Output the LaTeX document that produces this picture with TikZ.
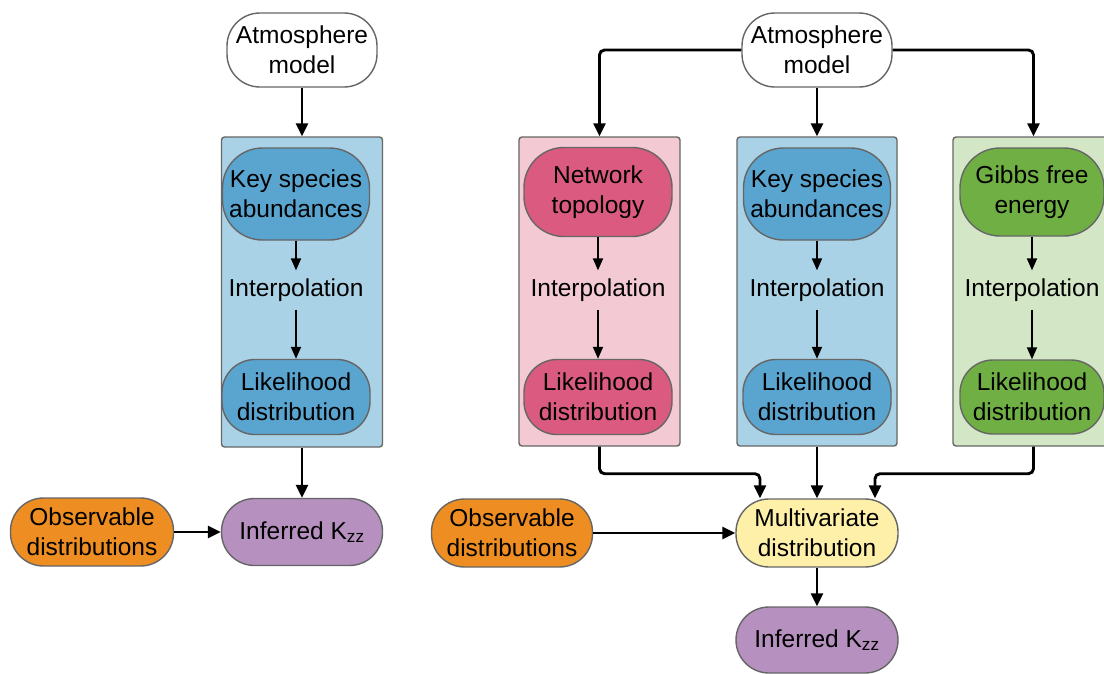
\documentclass[tikz,border=0pt]{standalone}
\usepackage{fontspec}
\setmainfont{Liberation Sans}
\usetikzlibrary{arrows.meta,calc}
\definecolor{bluebox}{HTML}{AAD2E6}
\definecolor{bluenode}{HTML}{5AA5D0}
\definecolor{pinkbox}{HTML}{F3C9D4}
\definecolor{pinknode}{HTML}{DB5B80}
\definecolor{greenbox}{HTML}{D3E7C6}
\definecolor{greennode}{HTML}{70AF43}
\definecolor{orangenode}{HTML}{EE8E22}
\definecolor{purplenode}{HTML}{B690BE}
\definecolor{yellownode}{HTML}{FEF0A8}
\definecolor{edgegray}{HTML}{666666}
\tikzset{
  pill/.style={draw=edgegray, line width=1.4pt, rounded corners=33pt, align=center, inner sep=0pt,
    font=\fontsize{24.5}{30}\selectfont},
  tallpill/.style={pill, rounded corners=40pt},
  panel/.style={draw=edgegray, line width=1.4pt, rounded corners=3pt, inner sep=0pt},
  plain/.style={align=center, inner sep=8pt, font=\fontsize{24.5}{30}\selectfont},
  bigarrow/.style={line width=2.9pt, rounded corners=5pt, -{Triangle[length=13pt,width=12pt]}},
  smallarrow/.style={line width=1.8pt, -{Triangle[length=12pt,width=10pt]}},
}
\begin{document}
\begin{tikzpicture}[x=1pt,y=-1pt]
\useasboundingbox (0,0) rectangle (1104,673);
\clip (0,0) rectangle (1104,673);
\fill[white] (0,0) rectangle (1104,673);

% ---------- left diagram ----------
\node[pill, fill=white, minimum width=150pt, minimum height=74pt] (atmL) at (302,50) {Atmosphere\\model};
\node[panel, fill=bluebox, minimum width=161pt, minimum height=310pt] (boxL) at (302,292) {};
\node[tallpill, fill=bluenode, minimum width=147pt, minimum height=92pt] (keyL) at (296,194) {Key species\\abundances};
\node[plain] (intL) at (296,290) {Interpolation};
\node[pill, fill=bluenode, minimum width=148pt, minimum height=75pt] (likeL) at (296,397) {Likelihood\\distribution};
\node[pill, fill=purplenode, minimum width=161pt, minimum height=67pt] (infL) at (302,532) {Inferred K\textsubscript{zz}};
\node[pill, fill=orangenode, minimum width=163pt, minimum height=68pt] (obsL) at (92,532) {Observable\\distributions};

\draw[bigarrow] (atmL.south) -- (boxL.north);
\draw[smallarrow] (keyL.south) -- (intL.north);
\draw[smallarrow] (intL.south) -- (likeL.north);
\draw[bigarrow] (boxL.south) -- (infL.north);
\draw[bigarrow] (obsL.east) -- (infL.west);

% ---------- right diagram ----------
\node[pill, fill=white, minimum width=150pt, minimum height=74pt] (atmR) at (817,50) {Atmosphere\\model};
\node[panel, fill=pinkbox, minimum width=161pt, minimum height=309pt] (boxP) at (599.5,291.5) {};
\node[panel, fill=bluebox, minimum width=160pt, minimum height=309pt] (boxB) at (817,291.5) {};
\node[panel, fill=greenbox, minimum width=161pt, minimum height=309pt] (boxG) at (1033.5,291.5) {};

\node[tallpill, fill=pinknode, minimum width=148pt, minimum height=89pt] (netT) at (598,192) {Network\\topology};
\node[tallpill, fill=bluenode, minimum width=147pt, minimum height=92pt] (keyR) at (817,194) {Key species\\abundances};
\node[tallpill, fill=greennode, minimum width=144pt, minimum height=88pt] (gibbs) at (1032,192) {Gibbs free\\energy};

\node[plain] (intP) at (598,290) {Interpolation};
\node[plain] (intB) at (817,290) {Interpolation};
\node[plain] (intG) at (1032,290) {Interpolation};

\node[pill, fill=pinknode, minimum width=148pt, minimum height=75pt] (likeP) at (598,397) {Likelihood\\distribution};
\node[pill, fill=bluenode, minimum width=148pt, minimum height=75pt] (likeB) at (817,397) {Likelihood\\distribution};
\node[pill, fill=greennode, minimum width=144pt, minimum height=74pt] (likeG) at (1032,397) {Likelihood\\distribution};

\node[pill, fill=yellownode, minimum width=162pt, minimum height=68pt] (multi) at (817,533) {Multivariate\\distribution};
\node[pill, fill=orangenode, minimum width=161pt, minimum height=68pt] (obsR) at (512,533) {Observable\\distributions};
\node[pill, fill=purplenode, minimum width=162pt, minimum height=66pt] (infR) at (817,640) {Inferred K\textsubscript{zz}};

\draw[bigarrow] (atmR.west) -| (boxP.north);
\draw[bigarrow] (atmR.east) -| (boxG.north);
\draw[bigarrow] (atmR.south) -- (boxB.north);

\draw[smallarrow] (netT.south) -- (intP.north);
\draw[smallarrow] (intP.south) -- (likeP.north);
\draw[smallarrow] (keyR.south) -- (intB.north);
\draw[smallarrow] (intB.south) -- (likeB.north);
\draw[smallarrow] (gibbs.south) -- (intG.north);
\draw[smallarrow] (intG.south) -- (likeG.north);

\coordinate (mL) at ([xshift=-57pt]multi.north);
\coordinate (mR) at ([xshift=58pt]multi.north);
\draw[bigarrow] (boxP.south) -- ++(0,27) -| (mL);
\draw[bigarrow] (boxG.south) -- ++(0,27) -| (mR);
\draw[bigarrow] (boxB.south) -- (multi.north);
\draw[bigarrow] (obsR.east) -- (multi.west);
\draw[bigarrow] (multi.south) -- (infR.north);
\end{tikzpicture}
\end{document}
